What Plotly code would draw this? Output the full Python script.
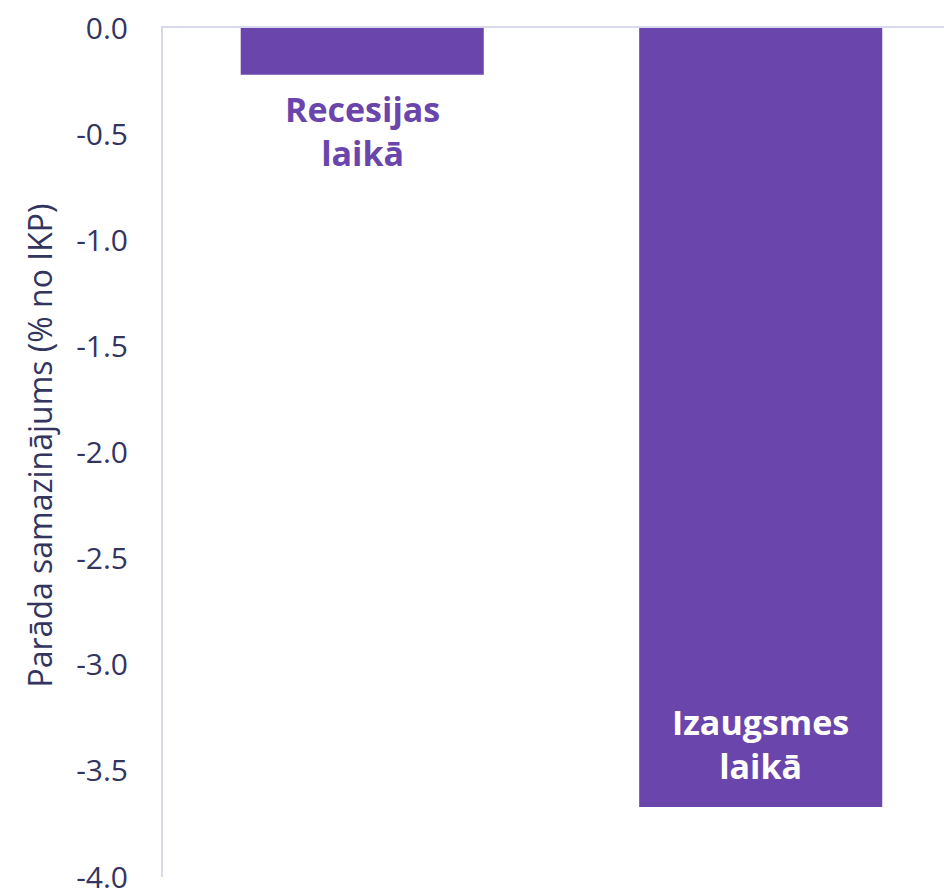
import plotly.graph_objects as go

# data
categories = ["Recesijas laikā", "Izaugsmes laikā"]
debt_change = [-0.22, -3.67]
label_text = ["Recesijas<br>laikā", "Izaugsmes<br>laikā"]
tick_vals = [0.0, -0.5, -1.0, -1.5, -2.0, -2.5, -3.0, -3.5, -4.0]
tick_text = ["0.0", "-0.5", "-1.0", "-1.5", "-2.0", "-2.5", "-3.0", "-3.5", "-4.0"]
y_title = "Parāda samazinājums (% no IKP)"

purple = "#6A46AC"
ink = "#33355F"
axis_col = "#D9D9EE"

fig = go.Figure()
fig.add_trace(go.Bar(
    x=[0, 1],
    y=debt_change,
    width=0.61,
    marker=dict(color=purple, line=dict(width=0)),
    hoverinfo="skip",
))

# bar labels
fig.add_annotation(x=0, y=debt_change[0], text="<b>" + label_text[0] + "</b>",
                   showarrow=False, yanchor="top", yshift=-9,
                   font=dict(size=34, color=purple))
fig.add_annotation(x=1, y=debt_change[1], text="<b>" + label_text[1] + "</b>",
                   showarrow=False, yanchor="bottom", yshift=16,
                   font=dict(size=34, color="white"))

# axis title as annotation so its position can be pinned
fig.add_annotation(xref="paper", yref="paper", x=0, y=0.5, xshift=-124,
                   yshift=7, xanchor="center", yanchor="middle",
                   text=y_title, textangle=-90, showarrow=False,
                   font=dict(size=32, color=ink))

fig.update_layout(
    width=944, height=888,
    margin=dict(l=163, r=0, t=28, b=11),
    paper_bgcolor="white", plot_bgcolor="white",
    font=dict(family="Open Sans", color=ink),
    showlegend=False,
    xaxis=dict(
        range=[-0.5, 1.46], side="top", showline=True, linecolor=axis_col,
        linewidth=2, showticklabels=False, ticks="", showgrid=False,
        zeroline=False, fixedrange=True, automargin=False,
    ),
    yaxis=dict(
        range=[-4, 0], tickvals=tick_vals, ticktext=tick_text,
        showline=True, linecolor=axis_col, linewidth=2, showgrid=False,
        zeroline=False, ticks="", ticklabelstandoff=27,
        ticklabeloverflow="allow", automargin=False, fixedrange=True,
        tickfont=dict(size=30, color=ink),
    ),
)

# drop the browser's default body margin so the figure fills the window
fig.write_html(
    "out.html",
    config={"displayModeBar": False},
    post_script="document.body.style.margin='0';"
                "document.body.style.overflow='hidden';",
)
